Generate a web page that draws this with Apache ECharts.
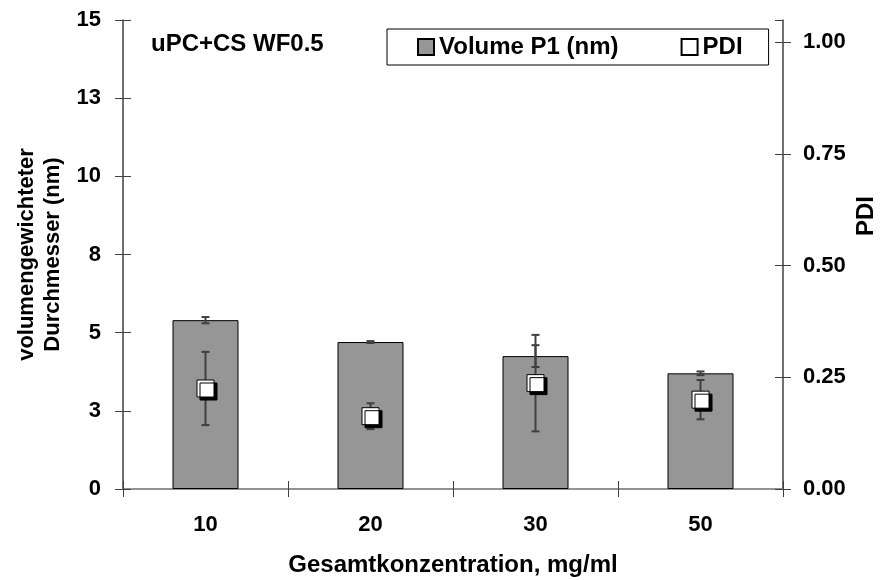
<!DOCTYPE html>
<html>
<head>
    <meta charset="utf-8">
    <title>Volume P1 / PDI</title>
    <script src="https://cdn.jsdelivr.net/npm/echarts@6/dist/echarts.min.js"></script>
    <style>
        html, body { margin: 0; padding: 0; background: #fff; }
        #main { width: 884px; height: 580px; }
    </style>
</head>
<body>
<div id="main"></div>
<script>
    // Werte
    var categories = ['10', '20', '30', '50'];
    var volume = [5.4, 4.7, 4.25, 3.7];
    var volumeErr = [0.1, 0.03, 0.35, 0.06];
    var pdi = [0.225, 0.163, 0.237, 0.200];
    var pdiErr = [0.082, 0.029, 0.108, 0.044];

    var FONT = 'Liberation Sans, Arial, sans-serif';
    var AX = '#404040';

    var myChart = echarts.init(document.getElementById('main'));

    // Fehlerbalken mit Kappen
    function errorBar(params, api) {
        var x = api.value(0), y = api.value(1), e = api.value(2);
        var hi = api.coord([x, y + e]);
        var lo = api.coord([x, y - e]);
        var w = 4;
        var st = { stroke: AX, lineWidth: 2 };
        return {
            type: 'group',
            children: [
                { type: 'line', shape: { x1: hi[0], y1: hi[1], x2: lo[0], y2: lo[1] }, style: st },
                { type: 'line', shape: { x1: hi[0] - w, y1: hi[1], x2: hi[0] + w, y2: hi[1] }, style: st },
                { type: 'line', shape: { x1: lo[0] - w, y1: lo[1], x2: lo[0] + w, y2: lo[1] }, style: st }
            ]
        };
    }

    var volErrData = categories.map(function (c, i) { return [i, volume[i], volumeErr[i]]; });
    var pdiErrData = categories.map(function (c, i) { return [i, pdi[i], pdiErr[i]]; });

    var labelStyle = { color: '#000', fontWeight: 'bold', fontSize: 22, fontFamily: FONT };
    var bigStyle = { color: '#000', fontWeight: 'bold', fontSize: 24, fontFamily: FONT };

    var option = {
        animation: false,
        title: {
            text: 'uPC+CS WF0.5',
            left: 151,
            top: 32,
            padding: 0,
            textStyle: bigStyle
        },
        legend: {
            left: 387,
            top: 29,
            padding: [6, 26, 6, 30],
            itemGap: 62,
            itemWidth: 16,
            itemHeight: 16,
            borderColor: '#000',
            borderWidth: 1,
            textStyle: Object.assign({ lineHeight: 19 }, bigStyle),
            data: [
                { name: 'Volume P1 (nm)', icon: 'rect' },
                { name: 'PDI', icon: 'rect' }
            ]
        },
        grid: { left: 123, right: 101, top: 20, bottom: 91, containLabel: false, outerBoundsMode: 'none' },
        xAxis: [
            {
                type: 'category',
                data: categories,
                position: 'bottom',
                axisLine: { lineStyle: { color: AX, width: 1.5 } },
                axisTick: { show: true, length: 8, lineStyle: { color: AX } },
                axisLabel: Object.assign({ margin: 25 }, labelStyle),
                name: 'Gesamtkonzentration, mg/ml',
                nameLocation: 'middle',
                nameGap: 64,
                nameTextStyle: Object.assign({}, bigStyle)
            },
            {
                type: 'category',
                data: categories,
                position: 'bottom',
                axisLine: { show: false },
                axisTick: { show: true, inside: true, length: 8, lineStyle: { color: AX } },
                axisLabel: { show: false }
            },
            {
                type: 'category',
                data: categories,
                position: 'top',
                axisLine: { lineStyle: { color: '#a0a0a0', width: 1.5 } },
                axisTick: { show: false },
                axisLabel: { show: false }
            }
        ],
        yAxis: [
            {
                type: 'value',
                position: 'left',
                min: 0,
                max: 15,
                interval: 2.5,
                splitLine: { show: false },
                axisLine: { show: true, lineStyle: { color: AX, width: 1.5 } },
                axisTick: { show: true, length: 8, lineStyle: { color: AX } },
                axisLabel: Object.assign({ margin: 22, formatter: function (v) { return Math.round(v); } }, labelStyle),
                name: 'volumengewichteter\nDurchmesser (nm)',
                nameLocation: 'middle',
                nameRotate: 90,
                nameGap: 57,
                nameTextStyle: Object.assign({ lineHeight: 26 }, labelStyle, { fontSize: 22 })
            },
            {
                type: 'value',
                position: 'right',
                min: 0,
                max: 1.05,
                interval: 0.25,
                splitLine: { show: false },
                axisLine: { show: true, lineStyle: { color: AX, width: 1.5 } },
                axisTick: { show: true, length: 8, lineStyle: { color: AX } },
                axisLabel: Object.assign({
                    margin: 20,
                    showMaxLabel: false,
                    formatter: function (v) { return v > 1.001 ? '' : v.toFixed(2); }
                }, labelStyle)
            },
            {
                type: 'value',
                position: 'left',
                min: 0,
                max: 15,
                interval: 2.5,
                splitLine: { show: false },
                axisLine: { show: false },
                axisTick: { show: true, inside: true, length: 8, lineStyle: { color: AX } },
                axisLabel: { show: false }
            },
            {
                type: 'value',
                position: 'right',
                min: 0,
                max: 1.05,
                interval: 0.25,
                splitLine: { show: false },
                axisLine: { show: false },
                axisTick: { show: true, inside: true, length: 8, lineStyle: { color: AX } },
                axisLabel: { show: false }
            }
        ],
        graphic: [
            {
                type: 'text',
                x: 866,
                y: 216,
                rotation: Math.PI / 2,
                style: {
                    text: 'PDI',
                    align: 'center',
                    verticalAlign: 'middle',
                    fill: '#000',
                    font: 'bold 24px ' + FONT
                }
            }
        ],
        series: [
            {
                name: 'Volume P1 (nm)',
                type: 'bar',
                xAxisIndex: 0,
                yAxisIndex: 0,
                barWidth: '40%',
                data: volume,
                itemStyle: { color: '#969696', borderColor: '#000', borderWidth: 1 },
                z: 2
            },
            {
                type: 'custom',
                xAxisIndex: 0,
                yAxisIndex: 0,
                renderItem: errorBar,
                encode: { x: 0, y: 1 },
                data: volErrData,
                z: 3
            },
            {
                type: 'custom',
                xAxisIndex: 0,
                yAxisIndex: 1,
                renderItem: errorBar,
                encode: { x: 0, y: 1 },
                data: pdiErrData,
                z: 4
            },
            {
                name: 'PDI',
                type: 'scatter',
                xAxisIndex: 0,
                yAxisIndex: 1,
                symbol: 'rect',
                symbolSize: 17,
                data: pdi,
                itemStyle: {
                    color: '#fff',
                    borderColor: '#000',
                    borderWidth: 1,
                    shadowColor: '#000',
                    shadowBlur: 0,
                    shadowOffsetX: 3,
                    shadowOffsetY: 3,
                    opacity: 1
                },
                z: 5
            }
        ]
    };

    myChart.setOption(option);
</script>
</body>
</html>
